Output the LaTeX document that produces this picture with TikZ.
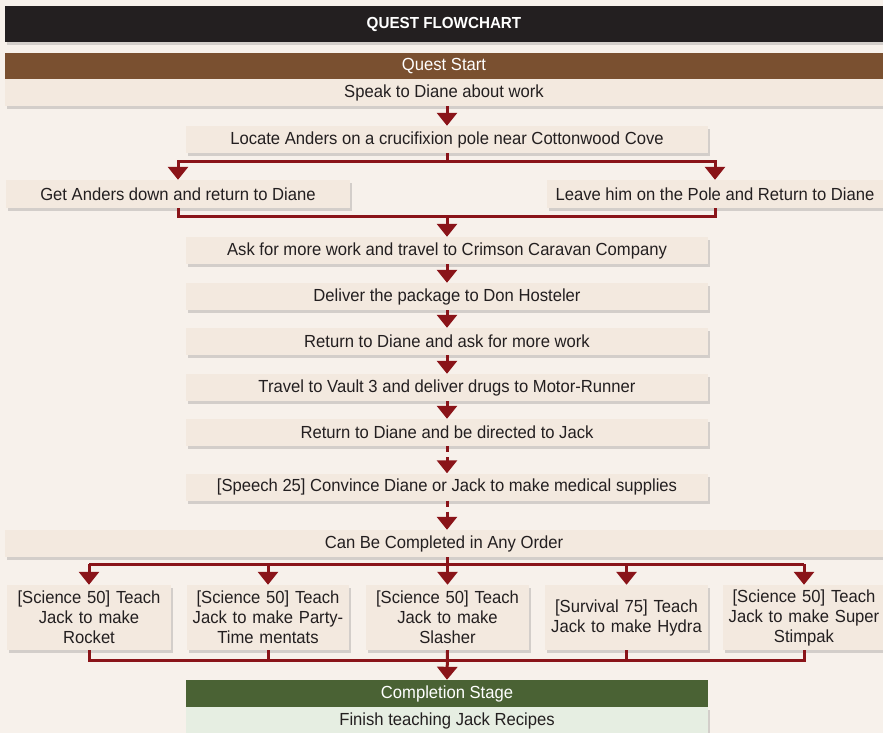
\documentclass[tikz,border=0pt]{standalone}
\usepackage{fontspec}
\setmainfont{Liberation Sans}[FakeStretch=0.95]
\usetikzlibrary{arrows.meta,shadows}

\definecolor{bgcol}{HTML}{F7F1EB}
\definecolor{boxcol}{HTML}{F3E9DF}
\definecolor{titlecol}{HTML}{231F20}
\definecolor{startcol}{HTML}{7A5030}
\definecolor{linkcol}{HTML}{8A1419}
\definecolor{endcol}{HTML}{4A6234}
\definecolor{endbox}{HTML}{E6EEE2}

\tikzset{
  stepbox/.style={fill=boxcol, text=titlecol, inner sep=0pt, font=\fontsize{17.5}{20}\selectfont,
    drop shadow={shadow xshift=2pt, shadow yshift=-3pt, opacity=0.3}},
  bar/.style={inner sep=0pt, font=\fontsize{17.5}{20}\selectfont},
  teach/.style={stepbox, align=center, minimum height=65pt, text width=160pt,
    font=\fontsize{17.5}{20}\selectfont},
  ln/.style={draw=linkcol, line width=3pt},
  arr/.style={ln, -{Triangle[width=20pt,length=13pt]}},
  dsh/.style={ln, dash pattern=on 6pt off 5pt}
}

\begin{document}
\begin{tikzpicture}[x=1pt,y=-1pt]
\fill[bgcol] (0,0) rectangle (883,733);
\useasboundingbox (0,0) rectangle (883,733);

% header bars
\node[bar, fill=titlecol, text=white, minimum width=878pt, minimum height=36pt,
  font=\fontsize{16}{20}\selectfont\bfseries,
  drop shadow={shadow xshift=2pt, shadow yshift=-3pt, opacity=0.3}] (title) at (444,24) {QUEST FLOWCHART};
\node[stepbox, minimum width=878pt, minimum height=27pt] (speak) at (444,92.5) {Speak to Diane about work};
\node[bar, fill=startcol, text=white, minimum width=878pt, minimum height=26pt] (start) at (444,66) {Quest Start};

% main steps
\node[stepbox, minimum width=522pt, minimum height=27pt] (locate) at (447,139.5) {Locate Anders on a crucifixion pole near Cottonwood Cove};
\node[stepbox, minimum width=344pt, minimum height=28pt] (getdown) at (178,194) {Get Anders down and return to Diane};
\node[stepbox, minimum width=336pt, minimum height=28pt] (leave) at (715,194) {Leave him on the Pole and Return to Diane};
\node[stepbox, minimum width=522pt, minimum height=27pt] (ask) at (447,250.5) {Ask for more work and travel to Crimson Caravan Company};
\node[stepbox, minimum width=522pt, minimum height=27pt] (deliver) at (447,296.5) {Deliver the package to Don Hosteler};
\node[stepbox, minimum width=522pt, minimum height=27pt] (again) at (447,341.5) {Return to Diane and ask for more work};
\node[stepbox, minimum width=522pt, minimum height=27pt] (vault) at (447,387.5) {Travel to Vault 3 and deliver drugs to Motor-Runner};
\node[stepbox, minimum width=522pt, minimum height=27pt] (jack) at (447,432.5) {Return to Diane and be directed to Jack};
\node[stepbox, minimum width=522pt, minimum height=27pt] (speech) at (447,487) {[Speech 25] Convince Diane or Jack to make medical supplies};
\node[stepbox, minimum width=878pt, minimum height=27pt] (any) at (444,543.5) {Can Be Completed in Any Order};

% recipes
\node[teach, minimum width=164pt] (rocket) at (89,617.5) {[Science 50] Teach\\Jack to make\\Rocket};
\node[teach, minimum width=162pt] (party) at (268,617.5) {[Science 50] Teach\\Jack to make Party-\\Time mentats};
\node[teach, minimum width=163pt] (slasher) at (447.5,617.5) {[Science 50] Teach\\Jack to make\\Slasher};
\node[teach, minimum width=163pt] (hydra) at (626.5,617.5) {[Survival 75] Teach\\Jack to make Hydra};
\node[teach, minimum width=162pt] (stimpak) at (804,617.5) {[Science 50] Teach\\Jack to make Super\\Stimpak};

% completion
\node[bar, fill=endcol, text=white, minimum width=522pt, minimum height=27pt] (done) at (447,693.5) {Completion Stage};
\node[bar, fill=endbox, text=titlecol, minimum width=522pt, minimum height=27pt,
  drop shadow={shadow xshift=2pt, shadow yshift=-3pt, opacity=0.3}] (finish) at (447,720.5) {Finish teaching Jack Recipes};

% connectors
\draw[arr] (speak.south -| locate.north) -- (locate.north);
\coordinate (split) at (447,161);
\draw[ln] (locate.south) -- (split);
\draw[arr] (split) -| (getdown.north);
\draw[arr] (split) -| (leave.north);
\coordinate (merge) at (447,216);
\draw[ln] (getdown.south) |- (merge) -| (leave.south);
\draw[arr] (merge) -- (ask.north);
\draw[arr] (ask.south) -- (deliver.north);
\draw[arr] (deliver.south) -- (again.north);
\draw[arr] (again.south) -- (vault.north);
\draw[arr] (vault.south) -- (jack.north);
\draw[dsh] (jack.south) -- ++(0,16) coordinate (d1);
\draw[arr] (d1) -- (speech.north);
\draw[dsh] (speech.south) -- ++(0,16) coordinate (d2);
\draw[arr] (d2) -- (any.north -| speech.south);
\coordinate (fan) at (447,564);
\draw[ln] (any.south -| fan) -- (fan);
\draw[ln] (rocket.north |- fan) -- (stimpak.north |- fan);
\foreach \n in {rocket,party,slasher,hydra,stimpak}
  \draw[arr] (\n.north |- fan) -- (\n.north);
\coordinate (join) at (447,660);
\draw[ln] (rocket.south) |- (join) -| (stimpak.south);
\foreach \n in {party,hydra}
  \draw[ln] (\n.south) -- (\n.south |- join);
\draw[arr] (slasher.south) -- (done.north);
\end{tikzpicture}
\end{document}
